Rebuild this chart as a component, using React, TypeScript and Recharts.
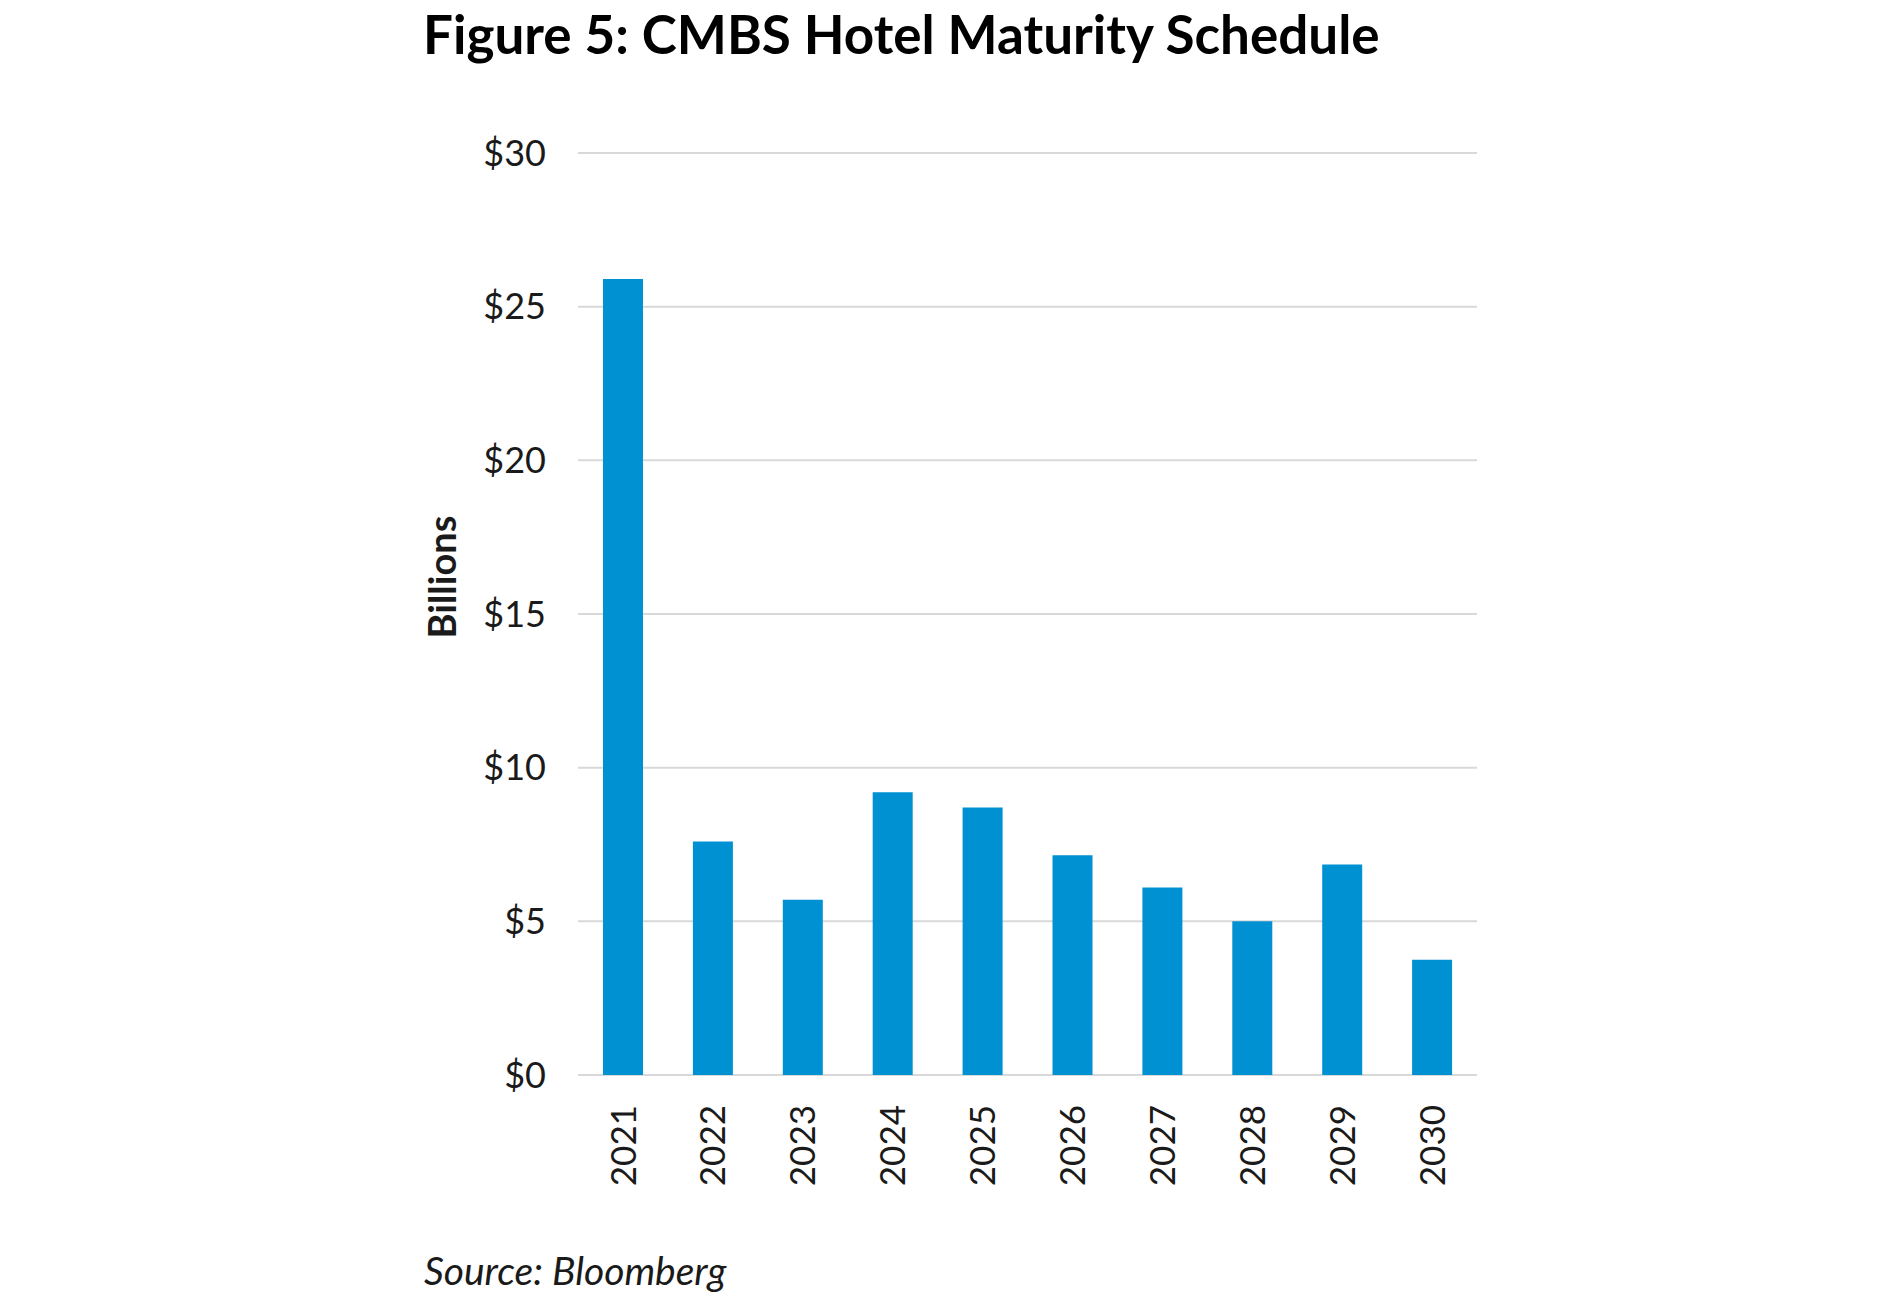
import { BarChart, Bar, XAxis, YAxis, CartesianGrid } from "recharts";

const years = ["2021", "2022", "2023", "2024", "2025", "2026", "2027", "2028", "2029", "2030"];
const maturities = [25.9, 7.6, 5.7, 9.2, 8.7, 7.15, 6.1, 5.0, 6.85, 3.75];
const yTicks = [0, 5, 10, 15, 20, 25, 30];

const data = years.map((year, i) => ({ year, value: maturities[i] }));

const FONT = "Lato, 'Noto Sans', sans-serif";

function YearTick(props: any) {
  const { x, y, payload } = props;
  return (
    <g transform={`translate(${x},${y})`}>
      <text
        x={0}
        y={0}
        dy="0.36em"
        textAnchor="end"
        transform="rotate(-90)"
        fontFamily={FONT}
        fontSize={35}
        fill="#1a1a1a"
      >
        {payload.value}
      </text>
    </g>
  );
}

export default function App() {
  return (
    <div
      style={{
        position: "absolute",
        left: 0,
        top: 0,
        width: 1900,
        height: 1300,
        background: "#fff",
        fontFamily: FONT,
      }}
    >
      <div
        style={{
          position: "absolute",
          left: 423,
          top: 2,
          fontSize: 53,
          fontWeight: 700,
          color: "#000",
          whiteSpace: "nowrap",
          lineHeight: "64px",
        }}
      >
        Figure 5: CMBS Hotel Maturity Schedule
      </div>

      <div
        style={{
          position: "absolute",
          left: 441,
          top: 577,
          transform: "translate(-50%, -50%) rotate(-90deg)",
          fontSize: 38,
          fontWeight: 700,
          color: "#1a1a1a",
          whiteSpace: "nowrap",
          lineHeight: "44px",
        }}
      >
        Billions
      </div>

      <div style={{ position: "absolute", left: 0, top: 0 }}>
        <BarChart
          width={1900}
          height={1300}
          data={data}
          margin={{ top: 153, right: 423, left: 478, bottom: 75 }}
        >
          <CartesianGrid vertical={false} stroke="#d9d9d9" strokeWidth={2} />
          <XAxis
            dataKey="year"
            axisLine={false}
            tickLine={false}
            tickSize={6}
            tickMargin={24}
            height={150}
            interval={0}
            tick={<YearTick />}
          />
          <YAxis
            domain={[0, 30]}
            ticks={yTicks}
            width={100}
            axisLine={false}
            tickLine={false}
            tickSize={6}
            tickMargin={26}
            tickFormatter={(v: number) => `$${v}`}
            tick={{ fontSize: 36, fill: "#1a1a1a", fontFamily: FONT }}
          />
          <Bar dataKey="value" fill="#0091d2" barSize={40} isAnimationActive={false} />
        </BarChart>
      </div>

      <div
        style={{
          position: "absolute",
          left: 424,
          top: 1246,
          fontSize: 39,
          fontStyle: "italic",
          color: "#1a1a1a",
          whiteSpace: "nowrap",
          lineHeight: "48px",
        }}
      >
        Source: Bloomberg
      </div>
    </div>
  );
}
